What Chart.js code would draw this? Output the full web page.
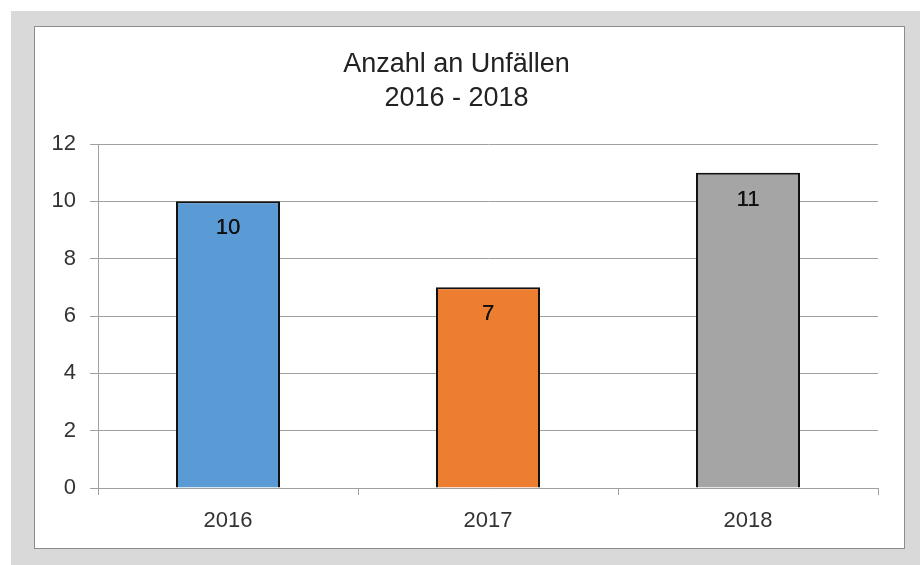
<!DOCTYPE html>
<html>
<head>
<meta charset="utf-8">
<script src="https://cdn.jsdelivr.net/npm/chart.js@4.4.1/dist/chart.umd.min.js"></script>
<style>
  html, body { margin: 0; padding: 0; background: #ffffff; }
  #frame { position: absolute; left: 11px; top: 11px; width: 909px; height: 554px; background: #d9d9d9; }
  #box { position: absolute; left: 34px; top: 26px; width: 869px; height: 521px; background: #ffffff; border: 1px solid #8c8c8c; }
  #box canvas { display: block; }
</style>
</head>
<body>
<div id="frame"></div>
<div id="box"><canvas id="accidentChart" width="869" height="521"></canvas></div>
<script>
const years = ['2016', '2017', '2018'];
const accidents = [10, 7, 11];
const barColors = ['#5b9bd5', '#ed7d31', '#a5a5a5'];
const titleLines = ['Anzahl an Unfällen', '2016 - 2018'];

const FONT = '"Liberation Sans", Arial, Helvetica, sans-serif';
const gridGray = '#a0a0a0';

// value labels inside the top of each bar
const barValueLabels = {
    id: 'barValueLabels',
    afterDatasetsDraw(chart) {
        const ctx = chart.ctx;
        const meta = chart.getDatasetMeta(0);
        ctx.save();
        ctx.font = '22px ' + FONT;
        ctx.fillStyle = '#111111';
        ctx.textAlign = 'center';
        ctx.textBaseline = 'middle';
        meta.data.forEach((bar, i) => {
            ctx.fillText(String(accidents[i]), bar.x, bar.y + 27);
            ctx.fillText(String(accidents[i]), bar.x + 0.3, bar.y + 27);
        });
        ctx.restore();
    }
};

new Chart(document.getElementById('accidentChart').getContext('2d'), {
    type: 'bar',
    data: {
        labels: years,
        datasets: [{
            data: accidents,
            backgroundColor: barColors,
            borderColor: '#111111',
            borderWidth: 2,
            barPercentage: 0.4,
            categoryPercentage: 1.0
        }]
    },
    options: {
        responsive: false,
        animation: false,
        layout: { padding: { left: 0, right: 26, top: 0, bottom: 0 } },
        plugins: {
            legend: { display: false },
            tooltip: { enabled: false },
            title: {
                display: true,
                text: titleLines,
                color: '#222222',
                font: { family: FONT, size: 27, weight: 'normal', lineHeight: 1.26 },
                padding: { top: 21, bottom: 28 }
            }
        },
        scales: {
            x: {
                grid: { drawOnChartArea: false, color: gridGray, tickLength: 7, offset: true },
                border: { color: gridGray },
                ticks: { color: '#333333', padding: 13, font: { family: FONT, size: 22 } },
                afterFit(scale) { scale.height = 60; }
            },
            y: {
                min: 0,
                max: 12,
                ticks: { stepSize: 2, color: '#333333', padding: 14, font: { family: FONT, size: 22 } },
                grid: { color: gridGray, tickLength: 8 },
                border: { color: gridGray },
                afterFit(scale) { scale.width = 63; }
            }
        }
    },
    plugins: [barValueLabels]
});
</script>
</body>
</html>
